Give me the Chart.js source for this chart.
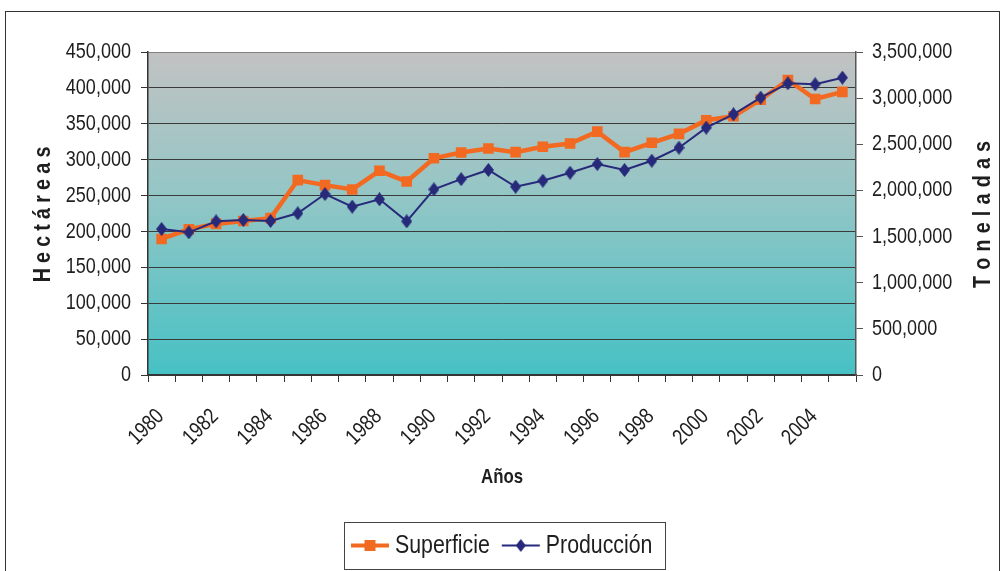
<!DOCTYPE html>
<html>
<head>
<meta charset="utf-8">
<script src="https://cdn.jsdelivr.net/npm/chart.js@4.4.1/dist/chart.umd.min.js"></script>
<style>
  html, body { margin: 0; padding: 0; background: #ffffff; }
  #wrap { width: 1002px; height: 571px; position: relative; }
</style>
</head>
<body>
<div id="wrap"><canvas id="chart" width="1002" height="571"></canvas></div>
<script>
// Años de la serie
const years = ['1980','1981','1982','1983','1984','1985','1986','1987','1988','1989',
               '1990','1991','1992','1993','1994','1995','1996','1997','1998','1999',
               '2000','2001','2002','2003','2004','2005'];

// Superficie cosechada (hectáreas) – eje izquierdo
const superficie = [189500, 203000, 210500, 214500, 218500, 271500, 264500, 258500, 284500, 269500,
                    302000, 310000, 315500, 310500, 318000, 322500, 339000, 310500, 323500, 336000,
                    355000, 360500, 383500, 411000, 384500, 394500];

// Producción (toneladas) – eje derecho
const produccion = [1582000, 1546000, 1665000, 1680000, 1669000, 1752000, 1961000, 1824000, 1904000, 1665000,
                    2012000, 2122000, 2222000, 2040000, 2105000, 2192000, 2286000, 2221000, 2322000, 2463000,
                    2680000, 2825000, 3005000, 3161000, 3150000, 3222000];

// Límites de los ejes
const hectareasMax = 450000, hectareasStep = 50000;
const toneladasMax = 3500000, toneladasStep = 500000;

// Rótulos de los ejes
const tituloIzq = 'Hectáreas';
const tituloDer = 'Toneladas';
const tituloX = 'Años';

const FONT = "'Liberation Sans', Arial, sans-serif";
const NARROW = 0.82;          // compresión horizontal del texto (estilo "narrow")
const TEXT = '#1e1e1e';
const ORANGE = '#f26a22';
const NAVY = '#27297a';

function fmt(v) { return Number(v).toLocaleString('en-US'); }

// Texto comprimido horizontalmente
function narrowText(ctx, text, x, y, opts) {
  ctx.save();
  ctx.font = (opts.weight || 'normal') + ' ' + opts.size + 'px ' + FONT;
  ctx.fillStyle = opts.color || TEXT;
  ctx.textAlign = opts.align || 'left';
  ctx.textBaseline = opts.baseline || 'middle';
  ctx.translate(x, y);
  if (opts.rotate) ctx.rotate(opts.rotate);
  ctx.scale(NARROW, 1);
  ctx.fillText(text, 0, 0);
  ctx.restore();
}
function narrowWidth(ctx, text, size, weight) {
  ctx.save();
  ctx.font = (weight || 'normal') + ' ' + size + 'px ' + FONT;
  const w = ctx.measureText(text).width * NARROW;
  ctx.restore();
  return w;
}

// Título vertical con letras espaciadas, centrado en (cx, cy)
function spacedVertical(ctx, text, cx, cy, size, gap) {
  ctx.save();
  ctx.font = 'bold ' + size + 'px ' + FONT;
  const chars = [...text];
  const widths = chars.map(ch => ctx.measureText(ch).width * NARROW);
  const total = widths.reduce((s, w) => s + w, 0) + gap * (chars.length - 1);
  ctx.translate(cx, cy);
  ctx.rotate(-Math.PI / 2);
  ctx.fillStyle = TEXT;
  ctx.textAlign = 'left';
  ctx.textBaseline = 'middle';
  let x = -total / 2;
  chars.forEach((ch, i) => {
    ctx.save();
    ctx.translate(x, 0);
    ctx.scale(NARROW, 1);
    ctx.fillText(ch, 0, 0);
    ctx.restore();
    x += widths[i] + gap;
  });
  ctx.restore();
}

// Marcador en rombo (más alto que ancho)
function diamond(w, h, color) {
  const c = document.createElement('canvas');
  c.width = w; c.height = h;
  const g = c.getContext('2d');
  g.fillStyle = color;
  g.beginPath();
  g.moveTo(w / 2, 0); g.lineTo(w, h / 2); g.lineTo(w / 2, h); g.lineTo(0, h / 2);
  g.closePath(); g.fill();
  return c;
}
const diamondMarker = diamond(11, 14, NAVY);

// Fondo degradado del área de trazado
const plotBackground = {
  id: 'plotBackground',
  beforeDraw(chart) {
    const { ctx, chartArea: a } = chart;
    const grad = ctx.createLinearGradient(0, a.top, 0, a.bottom);
    grad.addColorStop(0, '#c2c2c2');
    grad.addColorStop(0.45, '#93c6c6');
    grad.addColorStop(1, '#46c1c4');
    ctx.save();
    ctx.fillStyle = grad;
    ctx.fillRect(a.left, a.top, a.right - a.left, a.bottom - a.top);
    ctx.restore();
  }
};

// Rótulos de marcas, títulos de ejes, marco y leyenda
const decorations = {
  id: 'decorations',
  afterDraw(chart) {
    const { ctx, chartArea: a, scales } = chart;
    ctx.save();

    // marco del gráfico
    ctx.strokeStyle = '#333';
    ctx.lineWidth = 1;
    ctx.strokeRect(5.5, 11.5, 994, 600);

    // rótulos del eje izquierdo
    scales.y.ticks.forEach(t => {
      narrowText(ctx, t.label, a.left - 17, scales.y.getPixelForValue(t.value), { size: 22, align: 'right' });
    });
    // rótulos del eje derecho
    scales.y1.ticks.forEach(t => {
      narrowText(ctx, t.label, a.right + 16, scales.y1.getPixelForValue(t.value), { size: 22, align: 'left' });
    });
    // rótulos de años, girados 45°
    scales.x.ticks.forEach((t, i) => {
      if (!t.label) return;
      narrowText(ctx, t.label, scales.x.getPixelForTick(i) - 1, a.bottom + 38,
                 { size: 22, align: 'right', rotate: -Math.PI / 4 });
    });

    // títulos de los ejes
    narrowText(ctx, tituloX, (a.left + a.right) / 2, a.bottom + 102, { size: 20.5, weight: 'bold', align: 'center' });
    const midY = (a.top + a.bottom) / 2 + 1;
    spacedVertical(ctx, tituloIzq, 43, midY, 24, 5.2);
    spacedVertical(ctx, tituloDer, 983, midY, 24, 6.2);

    // leyenda
    const size = 26;
    const iconW = 38, gapText = 6, gapItem = 12;
    const items = chart.data.datasets.map(ds => ({ ds, w: narrowWidth(ctx, ds.label, size) }));
    const total = items.reduce((s, it) => s + iconW + gapText + it.w, 0) + gapItem * (items.length - 1);
    let x = Math.round((a.left + a.right) / 2 - total / 2);
    const boxTop = a.bottom + 147;
    const cy = boxTop + 23.5;
    ctx.strokeStyle = '#444';
    ctx.lineWidth = 1;
    ctx.strokeRect(x - 6.5, boxTop + 0.5, Math.round(total + 20), 47);
    items.forEach(it => {
      const ds = it.ds;
      ctx.strokeStyle = ds.borderColor;
      ctx.lineWidth = ds.borderWidth === 2 ? 2 : 4;
      ctx.beginPath(); ctx.moveTo(x, cy); ctx.lineTo(x + iconW, cy); ctx.stroke();
      const mx = x + iconW / 2;
      if (ds.pointStyle === 'rect') {
        ctx.fillStyle = ds.borderColor;
        ctx.fillRect(mx - 5.5, cy - 5.5, 11, 11);
      } else {
        const d = diamond(10, 13, ds.borderColor);
        ctx.drawImage(d, mx - 5, cy - 6.5);
      }
      narrowText(ctx, ds.label, x + iconW + gapText, cy, { size, align: 'left' });
      x += iconW + gapText + it.w + gapItem;
    });

    ctx.restore();
  }
};

new Chart(document.getElementById('chart'), {
  type: 'line',
  data: {
    labels: years,
    datasets: [
      {
        label: 'Superficie',
        data: superficie,
        yAxisID: 'y',
        borderColor: ORANGE,
        backgroundColor: ORANGE,
        borderWidth: 4.5,
        pointStyle: 'rect',
        pointRadius: 7.5,
        pointBorderWidth: 0,
        pointHoverRadius: 7.5,
        tension: 0,
        order: 2
      },
      {
        label: 'Producción',
        data: produccion,
        yAxisID: 'y1',
        borderColor: NAVY,
        backgroundColor: NAVY,
        borderWidth: 2,
        pointStyle: diamondMarker,
        pointRadius: 6,
        tension: 0,
        order: 1
      }
    ]
  },
  options: {
    responsive: false,
    animation: false,
    devicePixelRatio: 1,
    layout: { padding: { top: 52, left: 0, right: 0, bottom: 78 } },
    plugins: {
      tooltip: { enabled: false },
      legend: { display: false }
    },
    scales: {
      x: {
        offset: true,
        grid: {
          offset: true,
          drawOnChartArea: false,
          drawTicks: true,
          tickLength: 7,
          tickColor: '#333'
        },
        border: { color: '#333', width: 1.5 },
        ticks: {
          display: false,
          autoSkip: false,
          callback(value, index) {
            const y = years[index];
            return Number(y) % 2 === 0 ? y : '';
          }
        },
        afterFit(scale) { scale.height = 118; }
      },
      y: {
        position: 'left',
        min: 0,
        max: hectareasMax,
        grid: {
          color: ctx => (ctx.tick && ctx.tick.value === hectareasMax) ? '#808080' : '#3a3a3a',
          lineWidth: 1,
          tickLength: 7,
          tickColor: '#333'
        },
        border: { color: '#333', width: 1.5 },
        ticks: {
          display: false,
          stepSize: hectareasStep,
          callback: v => fmt(v)
        },
        afterFit(scale) { scale.width = 148; }
      },
      y1: {
        position: 'right',
        min: 0,
        max: toneladasMax,
        grid: {
          drawOnChartArea: false,
          tickLength: 7,
          tickColor: '#555'
        },
        border: { color: '#555', width: 1.5 },
        ticks: {
          display: false,
          stepSize: toneladasStep,
          callback: v => fmt(v)
        },
        afterFit(scale) { scale.width = 146; }
      }
    }
  },
  plugins: [plotBackground, decorations]
});
</script>
</body>
</html>
